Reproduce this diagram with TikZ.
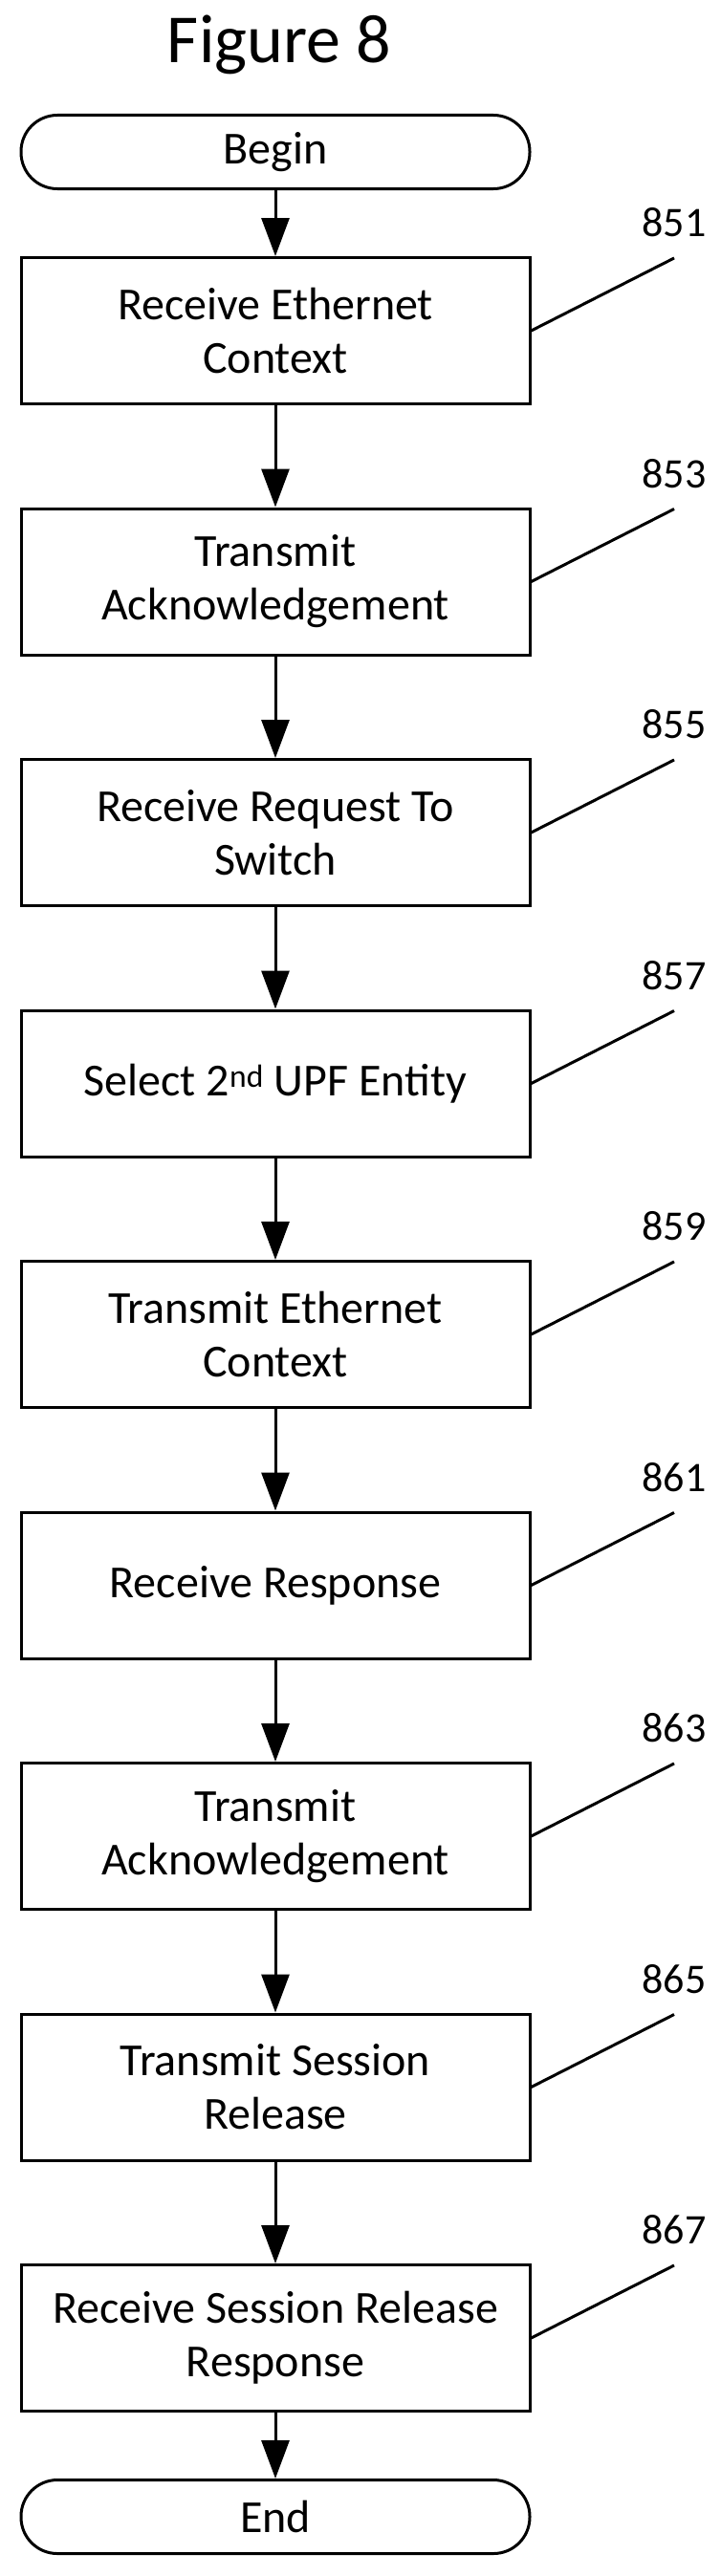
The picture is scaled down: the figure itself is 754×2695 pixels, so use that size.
\documentclass[tikz,border=0pt]{standalone}
\usepackage{fontspec}
\setmainfont{Carlito}
\usetikzlibrary{arrows.meta}
\tikzstyle{process} = [rectangle, draw=black, line width=3pt, minimum width=532pt, minimum height=153pt, align=center, font=\fontsize{48}{56}\selectfont]
\tikzstyle{term} = [rectangle, rounded corners=38pt, draw=black, line width=3pt, minimum width=532pt, minimum height=77pt, font=\fontsize{48}{56}\selectfont]
\tikzstyle{arrow} = [line width=3pt, -{Triangle[length=40pt, width=29pt]}]
\tikzstyle{ref} = [font=\fontsize{44}{54}\selectfont]

\begin{document}
\begin{tikzpicture}[x=1pt, y=-1pt]
    \useasboundingbox (0,0) rectangle (754,2695);
    \node[font=\fontsize{72}{76}\selectfont] (title) at (292,47) {Figure 8};
    \node[term] (begin) at (288,159) {Begin};
    \foreach \n/\t [count=\i from 0] in {851/Receive Ethernet\\Context,
        853/Transmit\\Acknowledgement,
        855/Receive Request To\\Switch,
        857/Select 2\textsuperscript{nd} UPF Entity,
        859/Transmit Ethernet\\Context,
        861/Receive Response,
        863/Transmit\\Acknowledgement,
        865/Transmit Session\\Release,
        867/Receive Session Release\\Response}
    {
        \node[process] (s\n) at (288,{346+262.5*\i}) {\t};
        \coordinate (c\n) at (705,{270+262.5*\i});
        \node[ref] (r\n) at (705,{233+262.5*\i}) {\n};
        \draw[line width=3pt] (s\n.east) -- (c\n);
    }
    \node[term] (end) at (288,2633) {End};
    % connectors
    \draw[arrow] (begin) -- (s851);
    \draw[arrow] (s851) -- (s853);
    \draw[arrow] (s853) -- (s855);
    \draw[arrow] (s855) -- (s857);
    \draw[arrow] (s857) -- (s859);
    \draw[arrow] (s859) -- (s861);
    \draw[arrow] (s861) -- (s863);
    \draw[arrow] (s863) -- (s865);
    \draw[arrow] (s865) -- (s867);
    \draw[arrow] (s867) -- (end);
\end{tikzpicture}
\end{document}
